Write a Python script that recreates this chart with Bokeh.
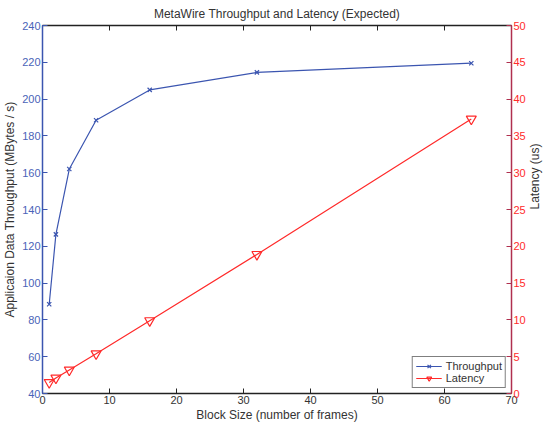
import math
from bokeh.plotting import figure
from bokeh.models import Range1d, LinearAxis, FixedTicker, Legend, LegendItem
from bokeh.embed import file_html
from bokeh.resources import INLINE

block_size = [1, 2, 4, 8, 16, 32, 64]
throughput = [88.5, 126.5, 162, 188.5, 205, 214.5, 219.5]
latency = [1.5, 2.1, 3.2, 5.4, 9.9, 18.9, 37.3]

x_ticks = [0, 10, 20, 30, 40, 50, 60, 70]
left_ticks = [40, 60, 80, 100, 120, 140, 160, 180, 200, 220, 240]
right_ticks = [0, 5, 10, 15, 20, 25, 30, 35, 40, 45, 50]

FONT = "Liberation Sans"
BLUE = "#3b55b0"
BLUE_LBL = "#4a63b8"
RED = "#ff2a2a"
MAROON = "#b0304f"
TXT = "#333333"

p = figure(frame_width=469, frame_height=368, output_backend="svg", toolbar_location=None,
           x_range=Range1d(0, 70), y_range=Range1d(40, 240),
           min_border_left=0, min_border_right=0, min_border_top=0, min_border_bottom=0)
p.extra_y_ranges = {"lat": Range1d(0, 50)}
p.grid.visible = False
p.outline_line_color = None
p.background_fill_color = "white"

p.title.text = "MetaWire Throughput and Latency (Expected)"
p.title.align = "center"
p.title.text_font = FONT
p.title.text_font_size = "12px"
p.title.text_font_style = "normal"
p.title.text_color = TXT
p.title.standoff = 9

def style(ax, line_color, label_color, ticks):
    ax.ticker = FixedTicker(ticks=ticks)
    ax.axis_line_color = line_color
    ax.axis_line_width = 1.5
    ax.major_tick_line_color = line_color
    ax.major_tick_in = 5
    ax.major_tick_out = 0
    ax.minor_tick_line_color = None
    ax.major_label_text_font = FONT
    ax.major_label_text_font_size = "11px"
    ax.major_label_text_color = label_color
    ax.major_label_standoff = 2
    ax.axis_label_text_font = FONT
    ax.axis_label_text_font_size = "12px"
    ax.axis_label_text_font_style = "normal"
    ax.axis_label_text_color = TXT
    ax.axis_label_standoff = 2

xa = p.xaxis[0]
style(xa, "#222222", TXT, x_ticks)
xa.axis_label = "Block Size (number of frames)"
xa.axis_label_standoff = 1

ya = p.yaxis[0]
style(ya, BLUE, BLUE_LBL, left_ticks)
ya.axis_label = "Applicaion Data Throughput (MBytes / s)"

ra = LinearAxis(y_range_name="lat")
style(ra, MAROON, RED, right_ticks)
ra.axis_label = "Latency (us)"
ra.axis_label_orientation = math.pi / 2
ra.axis_label_standoff = 6
p.add_layout(ra, "right")

ta = LinearAxis()
style(ta, "#222222", TXT, x_ticks)
ta.major_label_overrides = {t: "" for t in x_ticks}
ta.major_label_standoff = 0
p.add_layout(ta, "above")

l1 = p.line(block_size, throughput, line_color=BLUE, line_width=1.2)
m1 = p.scatter(block_size, throughput, marker="x", size=6, line_color=BLUE, line_width=1.2)
l2 = p.line(block_size, latency, line_color=RED, line_width=1.2, y_range_name="lat")
m2 = p.scatter(block_size, latency, marker="inverted_triangle", size=10, line_color=RED,
               fill_color=None, line_width=1.2, y_range_name="lat")

legend = Legend(items=[LegendItem(label="Throughput", renderers=[l1, m1]),
                       LegendItem(label="Latency", renderers=[l2, m2])],
                location="bottom_right")
legend.border_line_color = "black"
legend.border_line_width = 1
legend.background_fill_alpha = 1
legend.label_text_font = FONT
legend.label_text_font_size = "11px"
legend.label_text_color = TXT
legend.label_height = 10
legend.glyph_height = 12
legend.glyph_width = 26
legend.spacing = 0
legend.padding = 3
legend.margin = 5
legend.label_standoff = 4
p.add_layout(legend, "center")

open("out.html", "w").write(file_html(p, INLINE))
